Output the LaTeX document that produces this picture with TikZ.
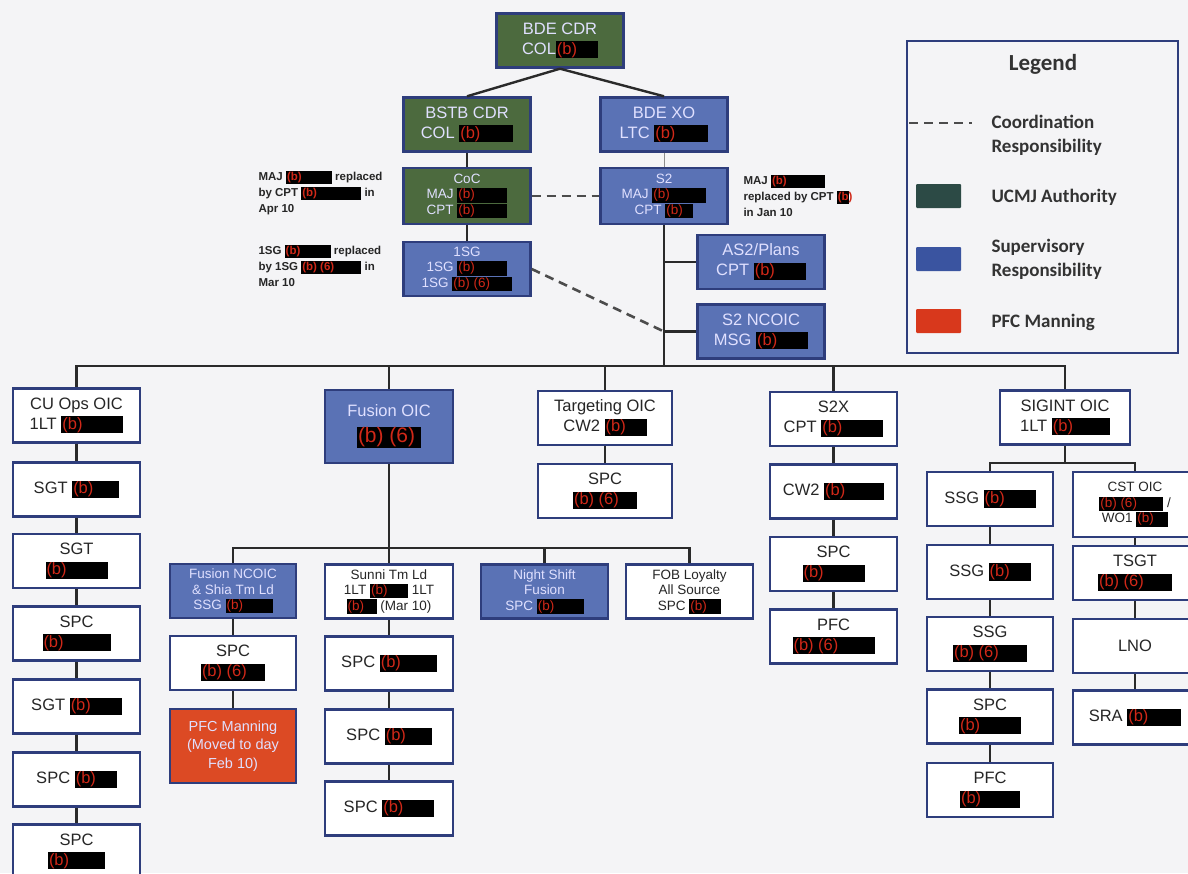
\documentclass[tikz,border=0pt]{standalone}
\usepackage{fontspec}
\setmainfont{Liberation Sans}
\newfontfamily\legendfont{Carlito}
\definecolor{navy}{HTML}{2E3D7C}
\definecolor{supblue}{HTML}{5A72B5}
\definecolor{ucmjgreen}{HTML}{4C6A3E}
\definecolor{manorange}{HTML}{DC4A24}
\definecolor{paper}{HTML}{F4F4F6}
\definecolor{redact}{HTML}{D02818}
\definecolor{linkgray}{HTML}{2A2A2A}
\definecolor{legucmj}{HTML}{2C4A45}
\definecolor{legsup}{HTML}{3A54A0}
\definecolor{legpfc}{HTML}{D8381C}
\colorlet{boxtext}{white!88!blue}
\newcommand{\rdx}[2][50pt]{{\fboxsep=1pt\colorbox{black}{\makebox[#1][l]{\color{redact}#2}}}}

\begin{document}
\begin{tikzpicture}[x=1pt,y=-1pt]
\tikzset{
  box/.style={draw=navy, line width=2.4pt, rectangle, align=center, inner sep=1pt,
    font=\fontsize{16.5}{20}\selectfont, minimum width=127, minimum height=54},
  wbox/.style={box, fill=white, text=black!85},
  bbox/.style={box, fill=supblue, text=boxtext},
  gbox/.style={box, fill=ucmjgreen, text=boxtext},
  obox/.style={box, fill=manorange, text=boxtext},
  small/.style={font=\fontsize{13.5}{15.5}\selectfont},
  link/.style={draw=linkgray, line width=2.4pt},
  coord/.style={draw=black!70, line width=2.6pt, dash pattern=on 9pt off 6pt},
  note/.style={anchor=west, align=left, font=\fontsize{11.5}{16}\selectfont\bfseries, text=black!85},
  legsq/.style={minimum width=45, minimum height=24, inner sep=0pt, rounded corners=1pt},
  legtext/.style={anchor=west, align=left, font=\legendfont\bfseries\fontsize{19}{24}\selectfont, text=black!80},
}
\useasboundingbox (0,0) rectangle (1188,873);
\fill[paper] (0,0) rectangle (1188,873);
\clip (0,0) rectangle (1188,873);

\node[gbox] (bdecdr) at (560,40.5) {BDE CDR\\COL\rdx[40pt]{(b)}};
\node[gbox] (bstb) at (467,124.5) {BSTB CDR\\COL \rdx[52pt]{(b)}};
\node[bbox] (bdexo) at (664,124.5) {BDE XO\\LTC \rdx[52pt]{(b)}};
\node[gbox, small, minimum height=56] (coc) at (467,196) {CoC\\MAJ \rdx[48pt]{(b)}\\CPT \rdx[48pt]{(b)}};
\node[bbox, small, minimum height=56] (s2) at (664,196) {S2\\MAJ \rdx[52pt]{(b)}\\CPT \rdx[26pt]{(b)}};
\node[bbox, small] (firstsg) at (467,269) {1SG\\1SG \rdx[48pt]{(b)}\\1SG \rdx[58pt]{(b) (6)}};
\node[bbox] (as2) at (761,262) {AS2/Plans\\CPT \rdx[50pt]{(b)}};
\node[bbox] (s2nco) at (761,331.5) {S2 NCOIC\\MSG \rdx[50pt]{(b)}};

\node[note] (notecoc) at (255,193) {MAJ \rdx[44pt]{(b)} replaced\\by CPT \rdx[58pt]{(b)} in\\Apr 10};
\node[note] (note1sg) at (255,266) {1SG \rdx[44pt]{(b)} replaced\\by 1SG \rdx[58pt]{(b) (6)} in\\Mar 10};
\node[note] (notes2) at (740,196) {MAJ \rdx[52pt]{(b)}\\replaced by CPT \rdx[10pt]{(b)}\\in Jan 10};

\node[wbox] (cuops) at (76.5,415.5) {CU Ops OIC\\1LT \rdx[60pt]{(b)}};
\node[bbox, minimum width=128, minimum height=73] (fusion) at (389,426.5) {Fusion OIC\\[6pt]\fontsize{21}{23}\selectfont\rdx[62pt]{(b) (6)}};
\node[wbox, minimum width=134] (target) at (605,418) {Targeting OIC\\CW2 \rdx[40pt]{(b)}};
\node[wbox] (stwox) at (833.5,419) {S2X\\CPT \rdx[60pt]{(b)}};
\node[wbox, minimum width=130] (sigint) at (1065,417.5) {SIGINT OIC\\1LT \rdx[56pt]{(b)}};

\node[wbox] (cu1) at (76.5,489.5) {SGT \rdx[45pt]{(b)}};
\node[wbox] (cu2) at (76.5,561) {SGT\\\rdx[60pt]{(b)}};
\node[wbox] (cu3) at (76.5,633.5) {SPC\\\rdx[66pt]{(b)}};
\node[wbox] (cu4) at (76.5,706.5) {SGT \rdx[50pt]{(b)}};
\node[wbox] (cu5) at (76.5,779.5) {SPC \rdx[40pt]{(b)}};
\node[wbox] (cu6) at (76.5,851.5) {SPC\\\rdx[55pt]{(b)}};

\node[wbox, minimum width=134] (tg1) at (605,491) {SPC\\\rdx[62pt]{(b) (6)}};

\node[wbox] (sx1) at (833.5,491.5) {CW2 \rdx[58pt]{(b)}};
\node[wbox] (sx2) at (833.5,564) {SPC\\\rdx[60pt]{(b)}};
\node[wbox] (sx3) at (833.5,636.5) {PFC\\\rdx[80pt]{(b) (6)}};

\node[bbox, small, minimum width=126] (fnco) at (233,591) {Fusion NCOIC\\\& Shia Tm Ld\\SSG \rdx[45pt]{(b)}};
\node[wbox, small, minimum width=128] (sunni) at (389,591.5) {Sunni Tm Ld\\1LT \rdx[36pt]{(b)} 1LT\\\rdx[28pt]{(b)} (Mar 10)};
\node[bbox, small, minimum width=127] (night) at (544.5,591.5) {Night Shift\\Fusion\\SPC \rdx[45pt]{(b)}};
\node[wbox, small, minimum width=127] (fob) at (689.5,591.5) {FOB Loyalty\\All Source\\SPC \rdx[30pt]{(b)}};
\node[wbox, minimum width=126] (fn1) at (233,663) {SPC\\\rdx[62pt]{(b) (6)}};
\node[obox, minimum width=126, minimum height=74, font=\fontsize{14.5}{18.5}\selectfont] (manning) at (233,746) {PFC Manning\\(Moved to day\\Feb 10)};

\node[wbox, minimum width=128] (su1) at (389,663.5) {SPC \rdx[55pt]{(b)}};
\node[wbox, minimum width=128] (su2) at (389,736.5) {SPC \rdx[45pt]{(b)}};
\node[wbox, minimum width=128] (su3) at (389,808.5) {SPC \rdx[50pt]{(b)}};

\node[wbox, minimum width=126] (sg1) at (990,499) {SSG \rdx[50pt]{(b)}};
\node[wbox, minimum width=126] (sg2) at (990,572) {SSG \rdx[40pt]{(b)}};
\node[wbox, minimum width=126] (sg3) at (990,644) {SSG\\\rdx[72pt]{(b) (6)}};
\node[wbox, minimum width=126] (sg4) at (990,716.5) {SPC\\\rdx[60pt]{(b)}};
\node[wbox, minimum width=126] (sg5) at (990,790) {PFC\\\rdx[58pt]{(b)}};
\node[wbox, small, minimum width=124, minimum height=65] (cst) at (1135,504.5) {CST OIC\\\rdx[62pt]{(b) (6)} /\\WO1 \rdx[30pt]{(b)}};
\node[wbox, minimum width=124] (tsgt) at (1135,573) {TSGT\\\rdx[72pt]{(b) (6)}};
\node[wbox, minimum width=124] (lno) at (1135,646) {LNO};
\node[wbox, minimum width=124] (sra) at (1135,717.5) {SRA \rdx[52pt]{(b)}};

\node[draw=navy, line width=2.4pt, minimum width=271, minimum height=312, inner sep=0pt] (legend) at (1042.5,197) {};
\node[font=\legendfont\bfseries\fontsize{23}{26}\selectfont, text=black!80] (legtitle) at (1043,64) {Legend};
\coordinate (dashA) at (909,123);
\coordinate (dashB) at (972,123);
\draw[coord] (dashA) -- (dashB);
\node[legtext] (legcoord) at (988,135) {Coordination\\Responsibility};
\node[legsq, fill=legucmj] (squcmj) at (938.5,196) {};
\node[legtext] (legucmjtext) at (988,197) {UCMJ Authority};
\node[legsq, fill=legsup] (sqsup) at (938.5,259) {};
\node[legtext] (legsuptext) at (988,259) {Supervisory\\Responsibility};
\node[legsq, fill=legpfc] (sqpfc) at (938.5,321) {};
\node[legtext] (legpfctext) at (988,322) {PFC Manning};

\draw[link] (bdecdr.south) -- (bstb.north);
\draw[link] (bdecdr.south) -- (bdexo.north);
\draw[link] (bstb) -- (coc);
\draw[link] (coc) -- (firstsg);
\draw[link, line width=1pt, draw=black!45] (bdexo) -- (s2);
\coordinate (bus) at (0,366);
\coordinate (fbus) at (0,548);
\coordinate (sbus) at (0,463);
\draw[link] (s2.south) -- (s2.south |- bus);
\draw[link] (s2.south |- as2.west) -- (as2.west);
\draw[link] (s2.south |- s2nco.west) -- (s2nco.west);
\foreach \c in {cuops,fusion,target,stwox,sigint}
  \draw[link] (s2.south |- bus) -| (\c.north);
\draw[coord] (coc.east) -- (s2.west);
\draw[coord] (firstsg.east) -- (s2.south |- s2nco.west);
\foreach \a/\b in {cuops/cu1,cu1/cu2,cu2/cu3,cu3/cu4,cu4/cu5,cu5/cu6,target/tg1,stwox/sx1,sx1/sx2,sx2/sx3,fnco/fn1,fn1/manning,sunni/su1,su1/su2,su2/su3,sg1/sg2,sg2/sg3,sg3/sg4,sg4/sg5,cst/tsgt,tsgt/lno,lno/sra}
  \draw[link] (\a) -- (\b);
\draw[link] (fusion.south) -- (fusion.south |- fbus);
\foreach \c in {fnco,sunni,night,fob}
  \draw[link] (fusion.south |- fbus) -| (\c.north);
\draw[link] (sigint.south) -- (sigint.south |- sbus);
\foreach \c in {sg1,cst}
  \draw[link] (sigint.south |- sbus) -| (\c.north);
\end{tikzpicture}
\end{document}
